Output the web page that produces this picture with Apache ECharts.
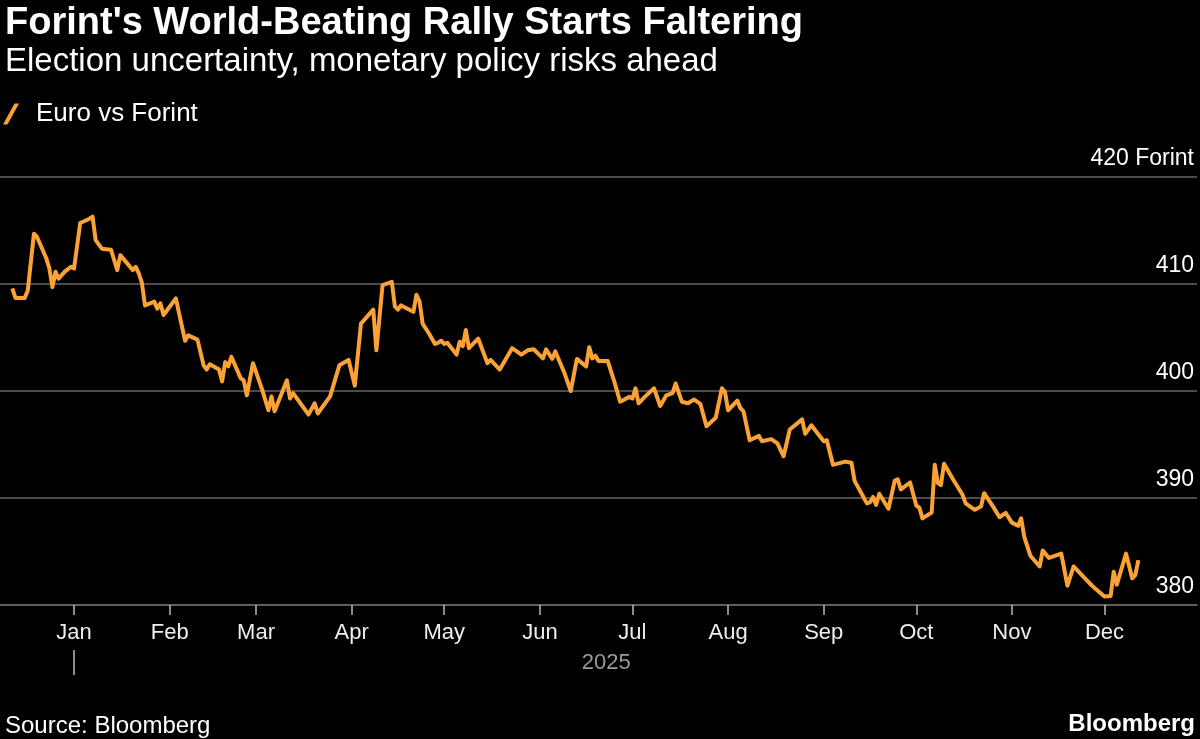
<!DOCTYPE html>
<html><head><meta charset="utf-8">
<script src="https://cdn.jsdelivr.net/npm/echarts@6/dist/echarts.min.js"></script>
<style>html,body{margin:0;padding:0;background:#000;}#c{width:1200px;height:739px;}</style>
</head><body><div id="c"></div>
<script>
// ---- data ----
const dates = [
'2024-12-12','2024-12-13','2024-12-16','2024-12-17','2024-12-19','2024-12-20','2024-12-23','2024-12-24','2024-12-25','2024-12-26',
'2024-12-27','2024-12-29','2024-12-31','2025-01-01','2025-01-03','2025-01-06','2025-01-07','2025-01-08','2025-01-10','2025-01-13',
'2025-01-15','2025-01-16','2025-01-20','2025-01-21','2025-01-22','2025-01-23','2025-01-24','2025-01-27','2025-01-28','2025-01-29',
'2025-01-30','2025-02-03','2025-02-05','2025-02-06','2025-02-07','2025-02-10','2025-02-12','2025-02-13','2025-02-14','2025-02-17',
'2025-02-18','2025-02-19','2025-02-20','2025-02-21','2025-02-24','2025-02-25','2025-02-26','2025-02-28','2025-03-03','2025-03-05',
'2025-03-06','2025-03-07','2025-03-11','2025-03-12','2025-03-13','2025-03-18','2025-03-20','2025-03-21','2025-03-25','2025-03-28',
'2025-03-31','2025-04-02','2025-04-04','2025-04-08','2025-04-09','2025-04-11','2025-04-14','2025-04-15','2025-04-16','2025-04-17',
'2025-04-21','2025-04-22','2025-04-23','2025-04-24','2025-04-26','2025-04-28','2025-04-29','2025-04-30','2025-05-01','2025-05-02',
'2025-05-05','2025-05-06','2025-05-07','2025-05-08','2025-05-09','2025-05-12','2025-05-15','2025-05-16','2025-05-19','2025-05-23',
'2025-05-26','2025-05-28','2025-05-30','2025-06-02','2025-06-03','2025-06-05','2025-06-06','2025-06-09','2025-06-11','2025-06-13',
'2025-06-16','2025-06-17','2025-06-18','2025-06-19','2025-06-20','2025-06-23','2025-06-25','2025-06-27','2025-06-30','2025-07-01',
'2025-07-02','2025-07-03','2025-07-05','2025-07-08','2025-07-10','2025-07-12','2025-07-14','2025-07-15','2025-07-17','2025-07-19',
'2025-07-21','2025-07-23','2025-07-25','2025-07-28','2025-07-30','2025-07-31','2025-08-01','2025-08-04','2025-08-05','2025-08-06',
'2025-08-08','2025-08-11','2025-08-12','2025-08-15','2025-08-17','2025-08-19','2025-08-21','2025-08-25','2025-08-26','2025-08-28',
'2025-09-01','2025-09-02','2025-09-04','2025-09-08','2025-09-10','2025-09-11','2025-09-15','2025-09-16','2025-09-17','2025-09-18',
'2025-09-19','2025-09-22','2025-09-24','2025-09-25','2025-09-26','2025-09-29','2025-10-01','2025-10-02','2025-10-03','2025-10-06',
'2025-10-07','2025-10-08','2025-10-09','2025-10-10','2025-10-13','2025-10-16','2025-10-17','2025-10-20','2025-10-22','2025-10-23',
'2025-10-26','2025-10-28','2025-10-30','2025-11-01','2025-11-03','2025-11-04','2025-11-05','2025-11-07','2025-11-10','2025-11-11',
'2025-11-13','2025-11-17','2025-11-19','2025-11-21','2025-11-25','2025-11-27','2025-11-28','2025-12-01','2025-12-03','2025-12-04',
'2025-12-05','2025-12-08','2025-12-10','2025-12-11','2025-12-12'
];
const values = [
409.6,408.7,408.7,409.4,414.7,414.4,412.4,411.45,409.7,411.15,
410.5,411.15,411.6,411.45,415.7,416.1,416.3,414.1,413.3,413.2,
411.3,412.7,411.3,411.6,411.0,410.1,408.0,408.35,407.7,408.2,
407.1,408.65,406.0,404.7,405.2,404.8,402.4,402.0,402.5,402.0,
400.9,402.7,402.3,403.2,401.2,401.0,399.6,402.6,400.1,398.2,
399.5,398.1,401.0,399.3,399.8,397.8,398.85,397.9,399.5,402.4,
402.9,400.5,406.3,407.6,403.8,409.9,410.2,407.9,407.6,408.0,
407.4,409.0,408.35,406.3,405.4,404.4,404.5,404.7,404.4,404.5,
403.4,404.6,404.2,405.7,404.0,404.9,402.6,402.9,402.0,404.0,
403.4,403.8,403.9,403.05,403.9,403.0,403.7,401.65,400.0,403.0,
402.3,404.1,403.05,403.3,402.8,402.8,401.0,399.0,399.45,399.3,
400.25,398.85,399.45,400.25,398.6,399.6,399.8,400.7,399.0,398.85,
399.2,398.8,396.7,397.5,400.25,399.9,398.2,399.1,398.4,398.1,
395.4,395.8,395.3,395.5,395.1,393.9,396.4,397.35,396.0,396.8,
395.3,395.4,393.1,393.4,393.3,391.6,389.5,389.6,390.1,389.35,
390.4,389.0,391.6,391.75,390.8,391.45,389.3,389.1,388.1,388.65,
393.1,391.4,391.2,393.2,391.7,390.3,389.5,388.9,389.2,390.45,
389.15,388.2,388.6,387.7,387.4,388.1,386.4,384.6,383.6,385.1,
384.4,384.8,381.8,383.6,382.4,381.8,381.55,380.8,380.85,383.1,
381.9,384.8,382.5,382.8,384.2
];
const seriesName = 'Euro vs Forint';
const monthStarts = ['2025-01-01','2025-02-01','2025-03-01','2025-04-01','2025-05-01','2025-06-01',
                     '2025-07-01','2025-08-01','2025-09-01','2025-10-01','2025-11-01','2025-12-01'];
const monthLabels = ['Jan','Feb','Mar','Apr','May','Jun','Jul','Aug','Sep','Oct','Nov','Dec'];
const yTicks = [380, 390, 400, 410, 420];
const yUnit = 'Forint';
const yearLabel = '2025';
const xRange = ['2024-12-08', '2025-12-31'];

// ---- chart ----
const ts = s => Date.parse(s);
const monthTs = monthStarts.map(ts);
const yearStart = ts(yearLabel + '-01-01');
const yearMid = (yearStart + ts(dates[dates.length - 1])) / 2;
const FONT = '"Liberation Sans", Arial, sans-serif';
const ORANGE = '#FBA237';

const chart = echarts.init(document.getElementById('c'), null, {renderer: 'canvas'});
chart.setOption({
  backgroundColor: '#000',
  animation: false,
  textStyle: {fontFamily: FONT},
  title: [
    {text: "Forint's World-Beating Rally Starts Faltering", left: 0, top: 0,
     textStyle: {color: '#fff', fontSize: 38, fontWeight: 'bold', fontFamily: FONT}},
    {text: 'Election uncertainty, monetary policy risks ahead', left: 0, top: 40,
     textStyle: {color: '#fff', fontSize: 33, fontWeight: 'normal', fontFamily: FONT}},
    {text: 'Source: Bloomberg', left: 0, top: 709,
     textStyle: {color: '#fff', fontSize: 24, fontWeight: 'normal', fontFamily: FONT}},
    {text: 'Bloomberg', right: 0, top: 707,
     textStyle: {color: '#fff', fontSize: 24, fontWeight: 'bold', fontFamily: FONT}}
  ],
  legend: {
    left: 3, top: 101, itemWidth: 16, itemHeight: 21, itemGap: 10, padding: 0,
    data: [{name: seriesName, icon: 'path://M0,21L4.5,21L16,0L11.5,0Z'}],
    textStyle: {color: '#fff', fontSize: 26, fontFamily: FONT, padding: [0, 0, 0, 12]}
  },
  grid: {left: 0, right: 3, top: 177, bottom: 134, containLabel: false},
  xAxis: [
    {
      type: 'value', min: ts(xRange[0]), max: ts(xRange[1]),
      axisLine: {show: true, lineStyle: {color: '#666', width: 1.5}},
      axisTick: {show: true, customValues: monthTs, length: 10, lineStyle: {color: '#bbb', width: 1.5}},
      axisLabel: {show: true, customValues: monthTs, margin: 17, color: '#eee', fontSize: 22, fontFamily: FONT,
                  formatter: v => monthLabels[monthTs.indexOf(v)] || ''},
      splitLine: {show: false}
    },
    {
      type: 'value', min: ts(xRange[0]), max: ts(xRange[1]), position: 'bottom', offset: 45,
      axisLine: {show: false},
      axisTick: {show: true, customValues: [yearStart], length: 25, lineStyle: {color: '#bbb', width: 1.5}},
      axisLabel: {show: true, customValues: [yearMid], margin: 2, color: '#9a9a9a', fontSize: 22, fontFamily: FONT,
                  formatter: () => yearLabel},
      splitLine: {show: false}
    }
  ],
  yAxis: {
    type: 'value', position: 'right', min: yTicks[0], max: yTicks[yTicks.length - 1], interval: 10,
    axisLine: {show: false}, axisTick: {show: false},
    splitLine: {show: true, lineStyle: {color: '#666', width: 1.5}},
    axisLabel: {inside: true, align: 'right', verticalAlign: 'bottom', margin: 3, color: '#fff', fontSize: 23,
                fontFamily: FONT, padding: [0, 0, 7, 0],
                formatter: v => v === yTicks[yTicks.length - 1] ? v + ' ' + yUnit : String(v)}
  },
  series: [{
    name: seriesName, type: 'line', xAxisIndex: 0, showSymbol: false, symbol: 'none',
    data: dates.map((d, i) => [ts(d), values[i]]),
    lineStyle: {color: ORANGE, width: 4, join: 'round'},
    itemStyle: {color: ORANGE}
  }]
});
</script>
</body></html>
